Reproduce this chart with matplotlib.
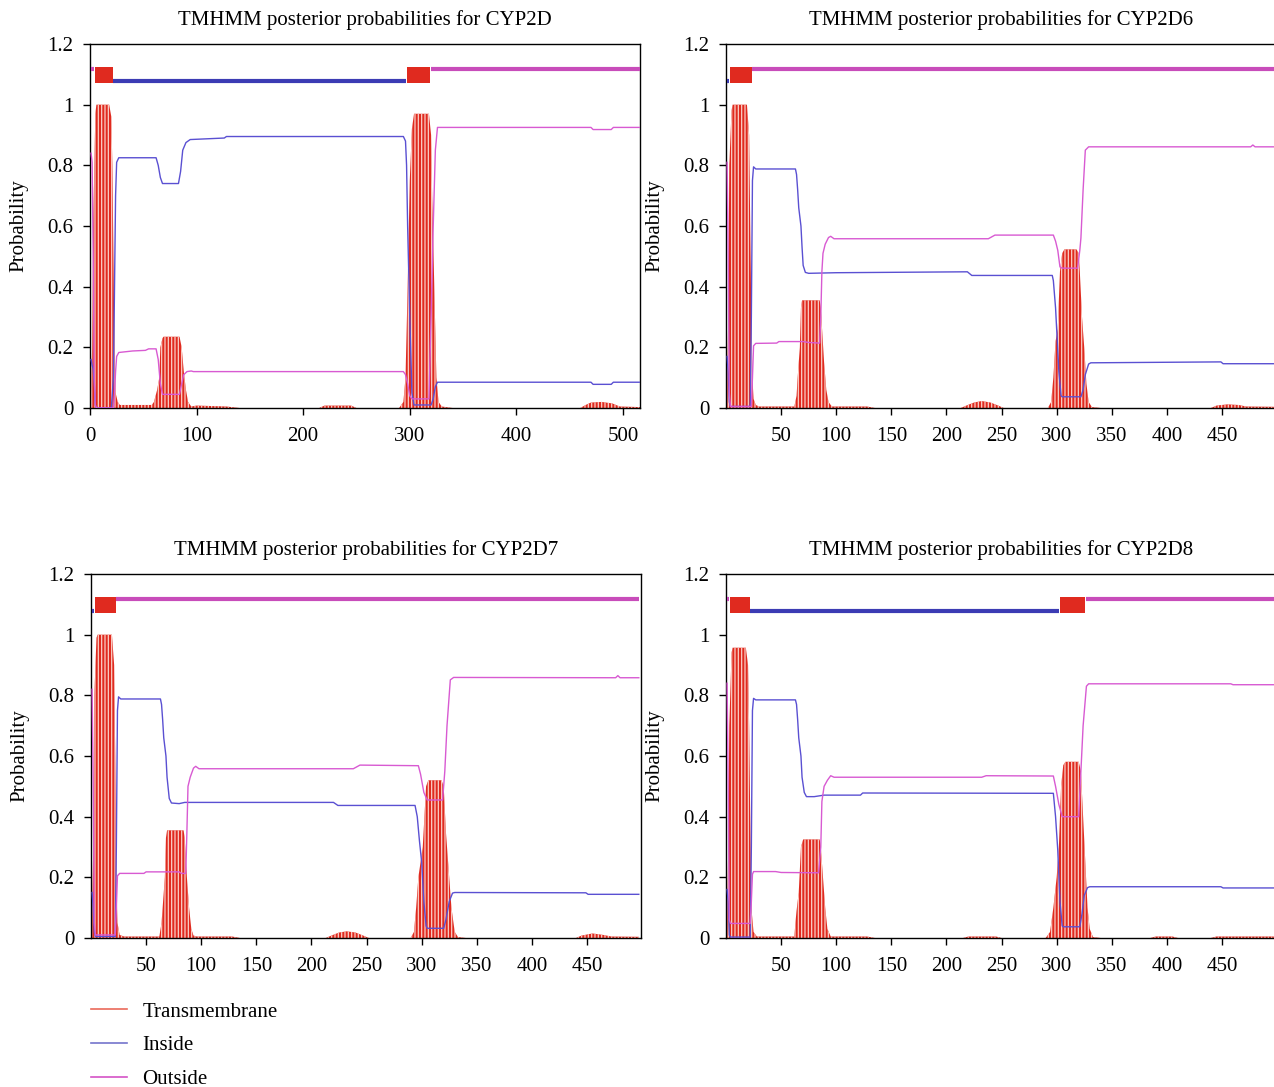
import matplotlib
matplotlib.use("Agg")
import matplotlib.pyplot as plt
from matplotlib.lines import Line2D

plt.rcParams['font.family'] = ['Liberation Serif', 'DejaVu Serif']
plt.rcParams['hatch.linewidth'] = 0.9

# ---------------- data ----------------
TITLES = ["TMHMM posterior probabilities for CYP2D",
          "TMHMM posterior probabilities for CYP2D6",
          "TMHMM posterior probabilities for CYP2D7",
          "TMHMM posterior probabilities for CYP2D8"]
XLIMS = [(0, 516), (0, 499), (0, 499), (0, 499)]
XTICKS = [[0, 100, 200, 300, 400, 500],
          [50, 100, 150, 200, 250, 300, 350, 400, 450],
          [50, 100, 150, 200, 250, 300, 350, 400, 450],
          [50, 100, 150, 200, 250, 300, 350, 400, 450]]
YTICKS = [0, 0.2, 0.4, 0.6, 0.8, 1.0, 1.2]
YTICKLABELS = ["0", "0.2", "0.4", "0.6", "0.8", "1", "1.2"]
LEGEND_LABELS = ["Transmembrane", "Inside", "Outside"]

# ---- CYP2D ----
D_TM_X = [1, 2, 3, 5, 6, 18, 20, 21, 22, 23, 24, 26, 28, 58, 60, 63, 65, 66, 68, 69, 84, 86, 88, 90, 92, 95,
          100, 128, 140, 215, 220, 245, 250, 290, 294, 296, 298, 300, 302, 304, 318, 320, 321, 323, 325, 327,
          330, 340, 460, 465, 470, 480, 490, 497, 516]
D_TM_Y = [0.05, 0.2, 0.6, 0.97, 1.0, 1.0, 0.96, 0.8, 0.5, 0.2, 0.05, 0.02, 0.01, 0.01, 0.02, 0.06, 0.10, 0.2,
          0.23, 0.235, 0.235, 0.2, 0.12, 0.06, 0.02, 0.005, 0.008, 0.005, 0.0, 0.0, 0.008, 0.008, 0.0, 0.0,
          0.02, 0.1, 0.4, 0.75, 0.92, 0.97, 0.97, 0.9, 0.7, 0.4, 0.1, 0.02, 0.005, 0.0, 0.0, 0.01, 0.018,
          0.02, 0.015, 0.005, 0.003]
D_IN_X = [1, 2, 3, 4, 5, 6, 20, 22, 23, 24, 25, 27, 62, 64, 66, 68, 83, 85, 87, 90, 94, 126, 128, 294, 296,
          297, 298, 300, 302, 304, 320, 322, 324, 326, 470, 472, 489, 491, 516]
D_IN_Y = [0.16, 0.14, 0.13, 0.08, 0.01, 0.0, 0.0, 0.1, 0.4, 0.7, 0.81, 0.825, 0.825, 0.80, 0.76, 0.74, 0.74,
          0.78, 0.85, 0.875, 0.885, 0.89, 0.895, 0.895, 0.88, 0.8, 0.6, 0.3, 0.05, 0.01, 0.01, 0.03, 0.07,
          0.085, 0.085, 0.078, 0.078, 0.085, 0.085]
D_OUT_X = [1, 2, 3, 4, 5, 6, 22, 23, 24, 25, 27, 40, 52, 55, 62, 64, 66, 68, 84, 86, 88, 91, 95, 97, 294, 296,
           298, 300, 302, 318, 320, 322, 324, 326, 470, 472, 489, 491, 516]
D_OUT_Y = [0.84, 0.81, 0.5, 0.1, 0.01, 0.0, 0.0, 0.05, 0.12, 0.17, 0.183, 0.188, 0.19, 0.195, 0.195, 0.16,
           0.08, 0.045, 0.045, 0.08, 0.11, 0.12, 0.122, 0.12, 0.12, 0.11, 0.08, 0.04, 0.03, 0.03, 0.3, 0.6,
           0.85, 0.925, 0.925, 0.918, 0.918, 0.925, 0.925]
D_SEG_TYPE = ["o", "M", "i", "M", "o"]
D_SEG_START = [1, 5, 22, 297, 320]
D_SEG_END = [4, 22, 296, 319, 516]

# ---- CYP2D6 ----
D6_TM_X = [1, 2, 3, 5, 6, 19, 21, 22, 23, 24, 25, 27, 30, 62, 64, 65, 67, 68, 69, 85, 86, 87, 89, 91, 93, 96,
           100, 128, 135, 213, 218, 225, 232, 240, 247, 252, 292, 295, 297, 299, 301, 303, 305, 307, 318, 320,
           321, 323, 325, 327, 329, 332, 340, 440, 445, 455, 465, 472, 497]
D6_TM_Y = [0.05, 0.3, 0.8, 0.98, 1.0, 1.0, 0.9, 0.6, 0.3, 0.1, 0.03, 0.01, 0.005, 0.005, 0.04, 0.10, 0.2,
           0.33, 0.355, 0.355, 0.33, 0.27, 0.15, 0.06, 0.02, 0.005, 0.005, 0.005, 0.0, 0.0, 0.008, 0.018,
           0.023, 0.018, 0.008, 0.0, 0.0, 0.02, 0.1, 0.22, 0.26, 0.45, 0.51, 0.523, 0.523, 0.51, 0.45, 0.3,
           0.2, 0.08, 0.02, 0.003, 0.0, 0.0, 0.008, 0.012, 0.01, 0.005, 0.004]
D6_IN_X = [1, 2, 3, 4, 22, 23, 24, 25, 27, 63, 64, 65, 66, 68, 69, 70, 72, 75, 100, 219, 223, 296, 297, 299,
           300, 302, 304, 305, 322, 324, 326, 329, 331, 449, 451, 497]
D6_IN_Y = [0.17, 0.12, 0.02, 0.005, 0.005, 0.3, 0.75, 0.795, 0.788, 0.788, 0.77, 0.72, 0.66, 0.6, 0.53,
           0.47, 0.447, 0.444, 0.446, 0.449, 0.437, 0.437, 0.42, 0.33, 0.26, 0.12, 0.04, 0.037, 0.037, 0.06,
           0.11, 0.145, 0.149, 0.152, 0.146, 0.146]
D6_OUT_X = [1, 2, 3, 4, 23, 24, 25, 27, 46, 48, 70, 75, 85, 86, 87, 88, 90, 93, 95, 98, 238, 244, 297, 299,
            301, 303, 305, 319, 321, 322, 324, 326, 329, 476, 478, 480, 497]
D6_OUT_Y = [0.81, 0.5, 0.05, 0.005, 0.005, 0.1, 0.205, 0.213, 0.214, 0.219, 0.219, 0.216, 0.214, 0.3, 0.45,
            0.51, 0.54, 0.562, 0.566, 0.558, 0.558, 0.570, 0.570, 0.55, 0.52, 0.465, 0.461, 0.461, 0.52, 0.56,
            0.72, 0.85, 0.861, 0.861, 0.867, 0.861, 0.861]
D6_SEG_TYPE = ["i", "M", "o"]
D6_SEG_START = [1, 4, 24]
D6_SEG_END = [3, 24, 497]

# ---- CYP2D7 ----
D7_TM_X = [1, 2, 3, 5, 6, 19, 21, 22, 23, 24, 26, 30, 62, 64, 65, 67, 68, 69, 84, 85, 87, 89, 91, 93, 96,
           128, 135, 213, 218, 225, 232, 240, 247, 252, 290, 293, 295, 297, 299, 301, 304, 306, 318, 320, 322,
           324, 327, 330, 333, 340, 440, 445, 455, 465, 472, 497]
D7_TM_Y = [0.06, 0.3, 0.8, 0.99, 1.0, 1.0, 0.9, 0.6, 0.2, 0.05, 0.01, 0.005, 0.005, 0.05, 0.10, 0.2, 0.33,
           0.355, 0.355, 0.33, 0.2, 0.1, 0.03, 0.008, 0.005, 0.005, 0.0, 0.0, 0.008, 0.018, 0.022, 0.018,
           0.008, 0.0, 0.0, 0.02, 0.1, 0.2, 0.25, 0.3, 0.5, 0.52, 0.52, 0.5, 0.35, 0.25, 0.1, 0.02, 0.003,
           0.0, 0.0, 0.008, 0.015, 0.01, 0.005, 0.004]
D7_IN_X = [1, 2, 3, 4, 22, 23, 24, 25, 27, 63, 64, 65, 66, 68, 69, 71, 73, 80, 85, 220, 224, 294, 296, 298,
           300, 302, 304, 305, 320, 322, 325, 328, 330, 449, 451, 497]
D7_IN_Y = [0.15, 0.1, 0.02, 0.005, 0.005, 0.3, 0.75, 0.795, 0.788, 0.788, 0.77, 0.72, 0.66, 0.6, 0.53,
           0.46, 0.445, 0.443, 0.447, 0.447, 0.437, 0.437, 0.40, 0.32, 0.25, 0.12, 0.04, 0.032, 0.032, 0.06,
           0.12, 0.148, 0.15, 0.149, 0.144, 0.144]
D7_OUT_X = [1, 2, 3, 4, 22, 23, 24, 26, 48, 50, 80, 82, 86, 87, 88, 90, 93, 95, 98, 238, 244, 297, 299, 302,
            305, 319, 321, 323, 326, 329, 476, 478, 480, 497]
D7_OUT_Y = [0.82, 0.5, 0.05, 0.01, 0.01, 0.1, 0.205, 0.213, 0.213, 0.218, 0.218, 0.213, 0.213, 0.35, 0.5,
            0.53, 0.56, 0.566, 0.558, 0.558, 0.570, 0.568, 0.54, 0.48, 0.455, 0.455, 0.55, 0.7, 0.851, 0.859,
            0.858, 0.865, 0.858, 0.858]
D7_SEG_TYPE = ["i", "M", "o"]
D7_SEG_START = [1, 4, 23]
D7_SEG_END = [3, 23, 497]

# ---- CYP2D8 ----
D8_TM_X = [1, 2, 3, 5, 6, 18, 20, 21, 22, 23, 25, 28, 62, 63, 64, 66, 68, 70, 85, 86, 88, 90, 92, 95, 100,
           128, 135, 215, 220, 245, 250, 290, 294, 297, 300, 302, 304, 306, 308, 320, 322, 324, 326, 328, 330,
           333, 340, 385, 390, 405, 410, 440, 445, 497]
D8_TM_Y = [0.05, 0.3, 0.7, 0.94, 0.957, 0.957, 0.9, 0.7, 0.4, 0.1, 0.02, 0.005, 0.005, 0.05, 0.09, 0.15, 0.3,
           0.325, 0.325, 0.3, 0.2, 0.1, 0.03, 0.005, 0.005, 0.005, 0.0, 0.0, 0.005, 0.005, 0.0, 0.0, 0.02,
           0.1, 0.2, 0.3, 0.5, 0.57, 0.581, 0.581, 0.55, 0.4, 0.25, 0.1, 0.03, 0.003, 0.0, 0.0, 0.005, 0.005,
           0.0, 0.0, 0.005, 0.005]
D8_IN_X = [1, 2, 3, 4, 22, 23, 24, 25, 27, 63, 64, 65, 66, 68, 69, 71, 73, 80, 89, 122, 124, 297, 299, 301,
           303, 305, 306, 321, 323, 325, 328, 330, 449, 451, 497]
D8_IN_Y = [0.16, 0.12, 0.01, 0.003, 0.003, 0.3, 0.75, 0.79, 0.785, 0.785, 0.77, 0.72, 0.66, 0.6, 0.53, 0.48,
           0.466, 0.466, 0.471, 0.471, 0.478, 0.477, 0.40, 0.29, 0.12, 0.04, 0.037, 0.037, 0.08, 0.14, 0.166,
           0.169, 0.169, 0.165, 0.165]
D8_OUT_X = [1, 2, 3, 4, 22, 23, 24, 25, 45, 50, 84, 86, 87, 89, 92, 95, 98, 232, 236, 297, 299, 302, 305,
            320, 322, 324, 327, 329, 458, 460, 497]
D8_OUT_Y = [0.84, 0.5, 0.06, 0.048, 0.048, 0.12, 0.21, 0.219, 0.219, 0.216, 0.215, 0.3, 0.45, 0.5, 0.52,
            0.535, 0.53, 0.53, 0.535, 0.534, 0.50, 0.44, 0.40, 0.40, 0.55, 0.7, 0.83, 0.838, 0.838, 0.835,
            0.835]
D8_SEG_TYPE = ["o", "M", "i", "M", "o"]
D8_SEG_START = [1, 4, 22, 303, 327]
D8_SEG_END = [3, 22, 302, 326, 497]

PANELS = [
    (D_TM_X, D_TM_Y, D_IN_X, D_IN_Y, D_OUT_X, D_OUT_Y, D_SEG_TYPE, D_SEG_START, D_SEG_END),
    (D6_TM_X, D6_TM_Y, D6_IN_X, D6_IN_Y, D6_OUT_X, D6_OUT_Y, D6_SEG_TYPE, D6_SEG_START, D6_SEG_END),
    (D7_TM_X, D7_TM_Y, D7_IN_X, D7_IN_Y, D7_OUT_X, D7_OUT_Y, D7_SEG_TYPE, D7_SEG_START, D7_SEG_END),
    (D8_TM_X, D8_TM_Y, D8_IN_X, D8_IN_Y, D8_OUT_X, D8_OUT_Y, D8_SEG_TYPE, D8_SEG_START, D8_SEG_END),
]

# ---------------- style ----------------
W, H = 1274, 1087
TM_COLOR = "#e02a1f"
HATCH_COLOR = "#fbcfc6"
IN_COLOR = "#5a50d2"
OUT_COLOR = "#d85ad2"
IN_THICK = "#3c3cb4"
OUT_THICK = "#c84cba"
LEG_COLORS = ["#ea6a5a", "#7474cc", "#d453c6"]
FS = 15

fig = plt.figure(figsize=(W / 100, H / 100), dpi=100)
boxes = [(90, 44), (726, 44), (91, 574), (726, 574)]
AW, AH = 550, 364

for i, (tx, ty, ix, iy, ox, oy, st, ss, se) in enumerate(PANELS):
    left, top = boxes[i]
    ax = fig.add_axes([left / W, 1 - (top + AH) / H, AW / W, AH / H])
    ax.fill_between(tx, 0, ty, facecolor=TM_COLOR, edgecolor=HATCH_COLOR,
                    hatch="|||||", linewidth=0, zorder=2)
    ax.plot(ix, iy, color=IN_COLOR, lw=1.0, zorder=3)
    ax.plot(ox, oy, color=OUT_COLOR, lw=1.0, zorder=3)
    for typ, a, b in zip(st, ss, se):
        if typ == "M":
            ax.fill_between([a, b], 1.071, 1.123, color=TM_COLOR, lw=0, zorder=3)
        elif typ == "i":
            ax.plot([a, b], [1.077, 1.077], color=IN_THICK, lw=3.0,
                    solid_capstyle="butt", zorder=3)
        else:
            ax.plot([a, b], [1.118, 1.118], color=OUT_THICK, lw=3.0,
                    solid_capstyle="butt", zorder=3)
    ax.set_xlim(*XLIMS[i])
    ax.set_ylim(0, 1.2)
    ax.set_xticks(XTICKS[i])
    ax.set_xticklabels([str(t) for t in XTICKS[i]])
    ax.set_yticks(YTICKS)
    ax.set_yticklabels(YTICKLABELS)
    ax.tick_params(axis="x", direction="out", length=5, width=1, labelsize=FS, pad=9)
    ax.tick_params(axis="y", direction="out", length=5, width=1, labelsize=FS, pad=7)
    for s in ax.spines.values():
        s.set_linewidth(1.0)
        s.set_color("black")
    ax.set_title(TITLES[i], fontsize=FS, pad=14)
    ax.set_ylabel("Probability", fontsize=FS)
    ax.yaxis.set_label_coords(-62 / AW, 0.5)

handles = [Line2D([], [], color=c, lw=1.2) for c in LEG_COLORS]
fig.legend(handles, LEGEND_LABELS, loc="upper left",
           bbox_to_anchor=(87 / W, 1 - 998 / H), frameon=False, fontsize=FS,
           handlelength=1.7, handletextpad=0.75, labelspacing=0.68,
           borderpad=0.2, borderaxespad=0)

fig.savefig("out.png", dpi=100)
